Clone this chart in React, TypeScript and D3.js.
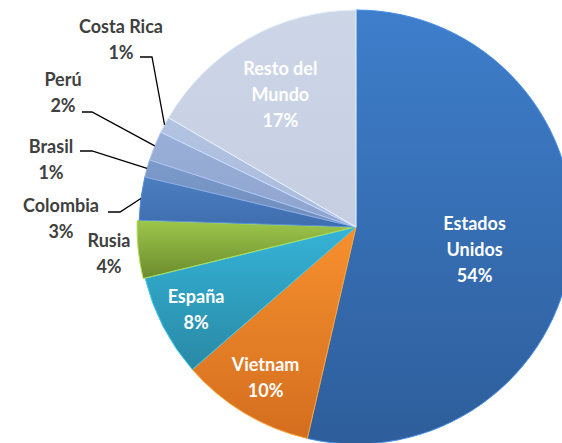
import React from 'react';
import * as d3 from 'd3';

// share by country
const countries = ['Estados Unidos', 'Vietnam', 'España', 'Rusia', 'Colombia', 'Brasil', 'Perú', 'Costa Rica', 'Resto del Mundo'];
const shares = [53.6, 10.0, 7.6, 4.3, 3.2, 1.3, 2.2, 1.2, 16.6];
const topColors = ['#3e7ecb', '#f6902e', '#35b3d7', '#9cc64b', '#4b7ec0', '#7c9aca', '#9aafd7', '#b3c3e2', '#cdd6e7'];
const bottomColors = ['#2e5e9b', '#d46e1f', '#2989a5', '#6c8b2d', '#3f6eae', '#6f8cbd', '#8ea4cf', '#a9badb', '#c6cfe2'];

const W = 562;
const H = 443;
const cx = 356;
const cy = 227;
const R = 217;

// inside labels (white) – radius factor along mid angle
const insideLabels: Record<string, { rf: number; lines: string[]; dy?: number }> = {
  'Estados Unidos': { rf: 0.55, lines: ['Estados', 'Unidos'], dy: 10 },
  Vietnam: { rf: 0.81, lines: ['Vietnam'] },
  'España': { rf: 0.83, lines: ['España'] },
  'Resto del Mundo': { rf: 0.7, lines: ['Resto del', 'Mundo'] },
};

// outside labels (grey) with leader lines
const outsideLabels: Record<string, { x: number; y: number; lead?: number[] }> = {
  'Costa Rica': { x: 121, y: 33, lead: [140, 57, 152] },
  'Perú': { x: 63, y: 86, lead: [82, 112, 92] },
  Brasil: { x: 51, y: 153, lead: [80, 151, 92] },
  Colombia: { x: 61, y: 212, lead: [108, 212, 120] },
  Rusia: { x: 109, y: 247 },
};

const LINE = 26;
const font = 'Lato, "Open Sans", sans-serif';

const App = () => {
  const total = d3.sum(shares);
  const data = countries.map((name, i) => ({ name, value: shares[i], i }));
  const pie = d3.pie<any>().value(d => d.value).sort(null).startAngle(0).endAngle(2 * Math.PI);
  const arcs = pie(data);
  const arc = d3.arc<any>().innerRadius(0).outerRadius(R);

  const pct = (v: number) => `${Math.round((v / total) * 100)}%`;
  const polar = (a: number, r: number) => [Math.sin(a) * r, -Math.cos(a) * r];

  return (
    <svg width={W} height={H} style={{ position: 'absolute', left: 0, top: 0, background: '#fff' }}>
      <defs>
        {countries.map((c, i) => (
          <linearGradient key={c} id={`g${i}`} x1="0" y1="0" x2="0" y2="1">
            <stop offset="0%" stopColor={topColors[i]} />
            <stop offset="100%" stopColor={bottomColors[i]} />
          </linearGradient>
        ))}
      </defs>
      <g transform={`translate(${cx},${cy})`}>
        {arcs.map(a => {
          const mid = (a.startAngle + a.endAngle) / 2;
          const off = a.data.name === 'Rusia' ? polar(mid, 2) : [0, 0];
          return (
            <path
              key={a.data.name}
              d={arc(a) || ''}
              transform={`translate(${off[0]},${off[1]})`}
              fill={`url(#g${a.data.i})`}
              stroke={d3.color(topColors[a.data.i])!.brighter(0.35).formatHex()}
              strokeWidth={1}
              strokeLinejoin="round"
            />
          );
        })}
        {arcs.map(a => {
          const lab = insideLabels[a.data.name];
          if (!lab) return null;
          const mid = (a.startAngle + a.endAngle) / 2;
          const [x, y0] = polar(mid, R * lab.rf);
          const lines = [...lab.lines, pct(a.data.value)];
          const y = y0 + (lab.dy || 0) - ((lines.length - 1) * LINE) / 2 + 6;
          return (
            <text key={a.data.name} x={x} y={y} textAnchor="middle" fill="#fff" fontFamily={font} fontWeight={700} fontSize={18}>
              {lines.map((l, k) => (
                <tspan key={k} x={x} y={y + k * LINE}>{l}</tspan>
              ))}
            </text>
          );
        })}
      </g>
      {arcs.map(a => {
        const lab = outsideLabels[a.data.name];
        if (!lab) return null;
        const mid = (a.startAngle + a.endAngle) / 2;
        const [px, py] = polar(mid, R);
        return (
          <g key={a.data.name}>
            {lab.lead && (
              <polyline
                points={`${lab.lead[0]},${lab.lead[1]} ${lab.lead[2]},${lab.lead[1]} ${cx + px},${cy + py}`}
                fill="none"
                stroke="#000"
                strokeWidth={1.3}
              />
            )}
            <text x={lab.x} y={lab.y} textAnchor="middle" fill="#404040" fontFamily={font} fontWeight={700} fontSize={18}>
              <tspan x={lab.x} y={lab.y}>{a.data.name}</tspan>
              <tspan x={lab.x} y={lab.y + LINE - 0.5}>{pct(a.data.value)}</tspan>
            </text>
          </g>
        );
      })}
    </svg>
  );
};

export default App;
